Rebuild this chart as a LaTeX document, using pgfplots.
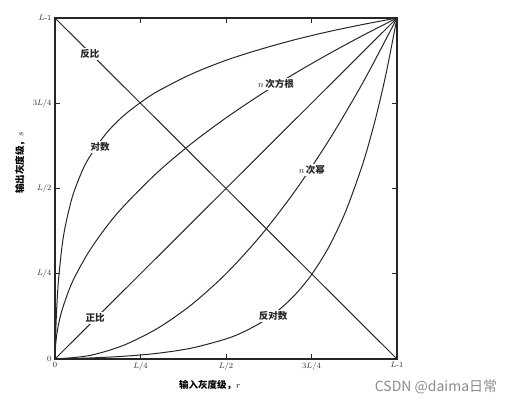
\documentclass[border=0pt]{standalone}
\usepackage{pgfplots}
\pgfplotsset{compat=1.18}
\usepackage{fontspec}
\newfontfamily\cjk{Noto Sans CJK SC}
\begin{document}
\begin{tikzpicture}
\begin{axis}[name=ax, at={(0,0)}, anchor=south west,
    scale only axis, width=342pt, height=341pt,
    xmin=0, xmax=1, ymin=0, ymax=1,
    xtick={0,0.25,0.5,0.75,1}, ytick={0,0.25,0.5,0.75,1},
    xticklabels={0,$L/4$,$L/2$,$3L/4$,$L$-1},
    yticklabels={0,$L/4$,$L/2$,$3L/4$,$L$-1},
    tick align=inside, major tick length=5pt,
    tick style={black!85, line width=0.9pt},
    axis line style={black!85, line width=1.2pt},
    ticklabel style={font=\footnotesize, text=black!85},
    xlabel={\cjk\bfseries 输入灰度级，$r$},
    ylabel={\cjk\bfseries 输出灰度级，$s$},
    xlabel style={at={(axis description cs:0.453,-0.076)}, anchor=center, font=\fontsize{9.5}{11}\selectfont},
    ylabel style={at={(axis description cs:-0.102,0.575)}, anchor=center, font=\fontsize{9.5}{11}\selectfont},
    clip=false]
\pgfplotsset{curve/.style={black!85, line width=1pt, no marks}}
% 反比
\addplot[curve] coordinates {(0,1) (1,0)};
% 正比
\addplot[curve] coordinates {(0,0) (1,1)};
% 对数
\addplot[curve, smooth] coordinates {(0,0) (0.002,0.074) (0.005,0.148) (0.01,0.2285) (0.02,0.326) (0.03,0.389) (0.05,0.473) (0.075,0.541) (0.1,0.591) (0.15,0.662) (0.2,0.713) (0.25,0.752) (0.3,0.785) (0.4,0.836) (0.5,0.876) (0.6,0.908) (0.7,0.936) (0.8,0.960) (0.9,0.981) (1,1)};
% n次方根
\addplot[curve, smooth] coordinates {(0,0) (0.001,0.0316) (0.005,0.0707) (0.01,0.1) (0.02,0.1414) (0.04,0.2) (0.06,0.245) (0.1,0.3162) (0.15,0.3873) (0.2,0.4472) (0.3,0.5477) (0.4,0.6325) (0.5,0.7071) (0.6,0.7746) (0.7,0.8367) (0.8,0.8944) (0.9,0.9487) (1,1)};
% n次幂
\addplot[curve, smooth] coordinates {(0,0) (0.1,0.01) (0.2,0.04) (0.3,0.09) (0.4,0.16) (0.5,0.25) (0.6,0.36) (0.7,0.49) (0.8,0.64) (0.9,0.81) (1,1)};
% 反对数
\addplot[curve, smooth] coordinates {(0,0) (0.1,0.0029) (0.2,0.008) (0.3,0.0168) (0.4,0.0321) (0.5,0.0588) (0.55,0.0789) (0.6,0.1053) (0.65,0.1402) (0.7,0.1863) (0.75,0.2471) (0.8,0.3273) (0.85,0.4331) (0.9,0.5725) (0.93,0.677) (0.95,0.7569) (0.97,0.8463) (1,1)};
\begin{scope}[every node/.style={fill=white, inner sep=1.5pt, text=black!85, font=\fontsize{9.5}{11}\selectfont\cjk\bfseries}]
\node at (axis cs:0.102,0.895) {反比};
\node at (axis cs:0.132,0.621) {对数};
\node at (axis cs:0.117,0.12) {正比};
\node at (axis cs:0.646,0.807) {$n$\,次方根};
\node at (axis cs:0.751,0.554) {$n$\,次幂};
\node at (axis cs:0.638,0.127) {反对数};
\end{scope}
\node[text=black!45, font=\fontsize{14}{16}\selectfont\cjk] at (axis description cs:1.114,-0.082) {CSDN @daima日常};
\end{axis}
\pgfresetboundingbox
\path[use as bounding box] (-55pt,-45pt) rectangle (459pt,359pt);
\end{tikzpicture}
\end{document}
